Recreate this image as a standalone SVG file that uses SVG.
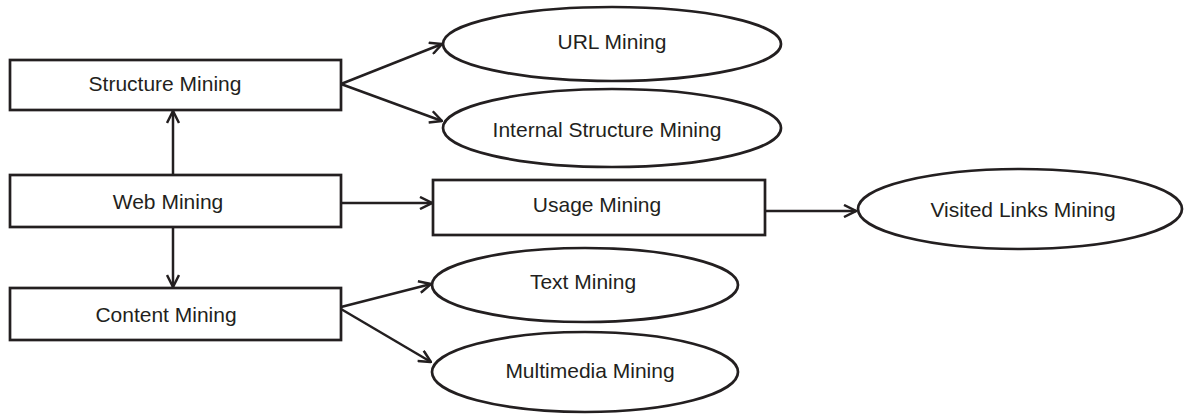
<svg xmlns="http://www.w3.org/2000/svg" width="1184" height="414" viewBox="0 0 1184 414">
  <style>
    .shape { fill: #ffffff; stroke: #231f20; stroke-width: 2.7; }
    .label { font-family: "Liberation Sans", Arial, sans-serif; font-size: 21px; fill: #231f20; text-anchor: middle; }
    .edge { fill: none; stroke: #231f20; stroke-width: 2.5; marker-end: url(#open); }
  </style>
  <defs>
    <marker id="open" viewBox="0 0 14 14" refX="13" refY="7" markerWidth="14" markerHeight="14" markerUnits="userSpaceOnUse" orient="auto">
      <path d="M1,1 L13,7 L1,13" fill="none" stroke="#231f20" stroke-width="2.5"/>
    </marker>
  </defs>
  <rect width="1184" height="414" fill="#ffffff"/>

  <g id="connectors">
    <line class="edge" x1="173" y1="175" x2="173" y2="111"/>
    <line class="edge" x1="173" y1="227" x2="173" y2="287"/>
    <line class="edge" x1="341" y1="203" x2="432" y2="203"/>
    <line class="edge" x1="765" y1="211" x2="856" y2="211"/>
    <line class="edge" x1="341" y1="84" x2="442" y2="44"/>
    <line class="edge" x1="341" y1="84" x2="442" y2="121"/>
    <line class="edge" x1="341" y1="307" x2="431" y2="284"/>
    <line class="edge" x1="341" y1="309" x2="431" y2="362"/>
  </g>

  <g id="structure-mining">
    <rect class="shape" x="10" y="60" width="331" height="50"/>
    <text class="label" x="165" y="91">Structure Mining</text>
  </g>
  <g id="web-mining">
    <rect class="shape" x="10" y="175" width="331" height="52"/>
    <text class="label" x="168" y="209">Web Mining</text>
  </g>
  <g id="content-mining">
    <rect class="shape" x="10" y="288" width="331" height="52"/>
    <text class="label" x="166" y="322">Content Mining</text>
  </g>
  <g id="usage-mining">
    <rect class="shape" x="433" y="180" width="332" height="55"/>
    <text class="label" x="597" y="212">Usage Mining</text>
  </g>
  <g id="url-mining">
    <ellipse class="shape" cx="612" cy="44" rx="169" ry="37"/>
    <text class="label" x="612" y="49">URL Mining</text>
  </g>
  <g id="internal-structure-mining">
    <ellipse class="shape" cx="612" cy="128" rx="169" ry="39"/>
    <text class="label" x="607" y="137">Internal Structure Mining</text>
  </g>
  <g id="text-mining">
    <ellipse class="shape" cx="585" cy="285" rx="153" ry="37"/>
    <text class="label" x="583" y="289">Text Mining</text>
  </g>
  <g id="multimedia-mining">
    <ellipse class="shape" cx="585" cy="372" rx="153" ry="40"/>
    <text class="label" x="590" y="378">Multimedia Mining</text>
  </g>
  <g id="visited-links-mining">
    <ellipse class="shape" cx="1020" cy="209" rx="162" ry="40"/>
    <text class="label" x="1023" y="217">Visited Links Mining</text>
  </g>
</svg>
